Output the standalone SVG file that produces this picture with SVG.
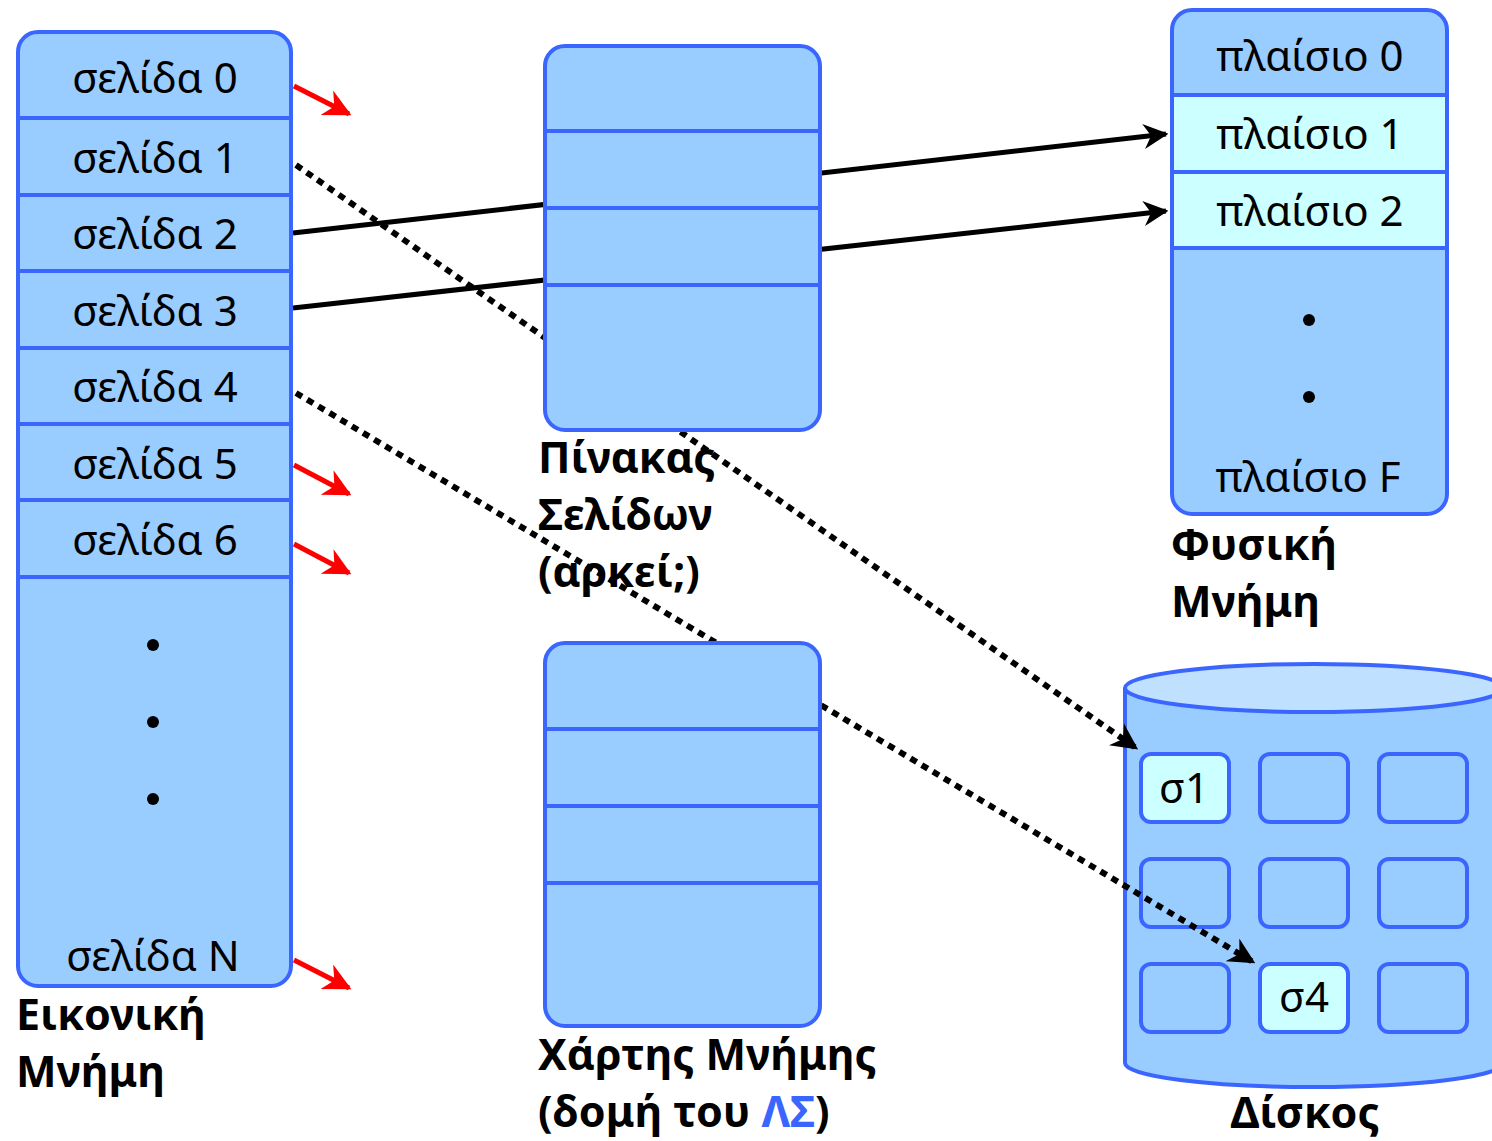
<svg xmlns="http://www.w3.org/2000/svg" width="1492" height="1141" viewBox="0 0 1492 1141">
  <defs>
    <style>
      .box { fill: #99CCFF; stroke: #3A66FF; stroke-width: 4; }
      .hot { fill: #CCFFFF; stroke: #3A66FF; stroke-width: 4; }
      .div { stroke: #3A66FF; stroke-width: 4; fill: none; }
      .t { font-family: "Noto Sans", "Open Sans", sans-serif; font-size: 42px; fill: #000; text-anchor: middle; }
      .lbl { font-family: "Noto Sans", "Open Sans", sans-serif; font-size: 43px; font-weight: bold; fill: #000; }
      .dot { fill: #000; }
      .red { stroke: #FF0000; stroke-width: 5; fill: none; marker-end: url(#redHead); }
      .solid { stroke: #000; stroke-width: 5; fill: none; marker-end: url(#blackHead); }
      .dotted { stroke: #000; stroke-width: 6; stroke-dasharray: 7 6; fill: none; marker-end: url(#dotHead); }
    </style>
    <marker id="redHead" viewBox="0 0 10 10" refX="9" refY="5" markerWidth="5.5" markerHeight="5.5" markerUnits="strokeWidth" orient="auto">
      <path d="M0,0 L10,5 L0,10 L3,5 Z" fill="#FF0000"/>
    </marker>
    <marker id="blackHead" viewBox="0 0 10 10" refX="9" refY="5" markerWidth="5" markerHeight="5" markerUnits="strokeWidth" orient="auto">
      <path d="M0,0 L10,5 L0,10 L3,5 Z" fill="#000"/>
    </marker>
    <marker id="dotHead" viewBox="0 0 10 10" refX="9" refY="5" markerWidth="4.4" markerHeight="4.4" markerUnits="strokeWidth" orient="auto">
      <path d="M0,0 L10,5 L0,10 L3,5 Z" fill="#000"/>
    </marker>
  </defs>

  <rect width="1492" height="1141" fill="#FFFFFF"/>

  <!-- disk sits under the dotted arrows -->
  <g id="disk">
    <path class="box" d="M1125,688 V1063 A189,24 0 0 0 1503,1063 V688"/>
    <ellipse cx="1314" cy="688" rx="189" ry="24" fill="#C0E0FF" stroke="#3A66FF" stroke-width="4"/>
    <rect class="hot" x="1141" y="754" width="88" height="68" rx="10"/>
    <rect class="box" x="1260" y="754" width="88" height="68" rx="10"/>
    <rect class="box" x="1379" y="754" width="88" height="68" rx="10"/>
    <rect class="box" x="1141" y="859" width="88" height="68" rx="10"/>
    <rect class="box" x="1260" y="859" width="88" height="68" rx="10"/>
    <rect class="box" x="1379" y="859" width="88" height="68" rx="10"/>
    <rect class="box" x="1141" y="964" width="88" height="68" rx="10"/>
    <rect class="hot" x="1260" y="964" width="88" height="68" rx="10"/>
    <rect class="box" x="1379" y="964" width="88" height="68" rx="10"/>
    <text class="t" x="1184" y="803">σ1</text>
    <text class="t" x="1304" y="1012">σ4</text>
    <text class="lbl" x="1305" y="1128" text-anchor="middle">Δίσκος</text>
  </g>

  <!-- connectors; the tables are drawn over them -->
  <g id="connectors">
    <line class="solid" x1="293" y1="233" x2="1166" y2="134"/>
    <line class="solid" x1="293" y1="308" x2="1166" y2="211"/>
    <line class="dotted" x1="296" y1="165" x2="1136" y2="748"/>
    <line class="dotted" x1="296" y1="393" x2="1253" y2="962"/>
    <line class="red" x1="294" y1="86" x2="349" y2="114"/>
    <line class="red" x1="294" y1="465" x2="349" y2="494"/>
    <line class="red" x1="294" y1="544" x2="349" y2="573"/>
    <line class="red" x1="294" y1="960" x2="349" y2="988"/>
  </g>

  <!-- virtual memory pages -->
  <g id="virtual-memory">
    <rect class="box" x="18" y="32" width="273" height="954" rx="20"/>
    <path class="div" d="M18,118 H291 M18,195 H291 M18,271 H291 M18,348 H291 M18,424 H291 M18,500 H291 M18,577 H291"/>
    <text class="t" x="155" y="93">σελίδα 0</text>
    <text class="t" x="155" y="173">σελίδα 1</text>
    <text class="t" x="155" y="249">σελίδα 2</text>
    <text class="t" x="155" y="326">σελίδα 3</text>
    <text class="t" x="155" y="402">σελίδα 4</text>
    <text class="t" x="155" y="479">σελίδα 5</text>
    <text class="t" x="155" y="555">σελίδα 6</text>
    <circle class="dot" cx="153" cy="645" r="6"/>
    <circle class="dot" cx="153" cy="722" r="6"/>
    <circle class="dot" cx="153" cy="799" r="6"/>
    <text class="t" x="153" y="971">σελίδα N</text>
    <text class="lbl" x="16" y="1030">Εικονική</text>
    <text class="lbl" x="16" y="1087">Μνήμη</text>
  </g>

  <!-- page table -->
  <g id="page-table">
    <rect class="box" x="545" y="46" width="275" height="384" rx="20"/>
    <path class="div" d="M545,131 H820 M545,208 H820 M545,285 H820"/>
    <text class="lbl" x="538" y="473">Πίνακας</text>
    <text class="lbl" x="538" y="530">Σελίδων</text>
    <text class="lbl" x="538" y="587">(αρκεί;)</text>
  </g>

  <!-- memory map -->
  <g id="memory-map">
    <rect class="box" x="545" y="643" width="275" height="383" rx="20"/>
    <path class="div" d="M545,729 H820 M545,806 H820 M545,883 H820"/>
    <text class="lbl" x="538" y="1070">Χάρτης Μνήμης</text>
    <text class="lbl" x="538" y="1127">(δομή του <tspan fill="#3A66FF">ΛΣ</tspan>)</text>
  </g>

  <!-- physical memory frames -->
  <g id="physical-memory">
    <rect class="box" x="1172" y="10" width="275" height="504" rx="20"/>
    <rect class="hot" x="1172" y="95" width="275" height="153"/>
    <path class="div" d="M1172,95 H1447 M1172,172 H1447 M1172,248 H1447"/>
    <text class="t" x="1310" y="71">πλαίσιο 0</text>
    <text class="t" x="1310" y="149">πλαίσιο 1</text>
    <text class="t" x="1310" y="226">πλαίσιο 2</text>
    <circle class="dot" cx="1309" cy="320" r="6"/>
    <circle class="dot" cx="1309" cy="397" r="6"/>
    <text class="t" x="1308" y="492">πλαίσιο F</text>
    <text class="lbl" x="1171" y="560">Φυσική</text>
    <text class="lbl" x="1171" y="617">Μνήμη</text>
  </g>
</svg>
